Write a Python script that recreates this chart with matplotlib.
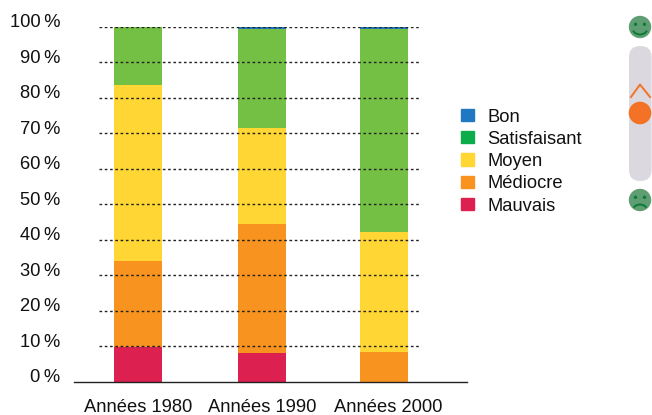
import matplotlib
matplotlib.use('Agg')
import matplotlib.pyplot as plt
import matplotlib.transforms as mtrans
import numpy as np
from matplotlib.patches import Circle, FancyBboxPatch, Arc, Patch

plt.rcParams['font.family'] = ['Liberation Sans', 'DejaVu Sans']

decades = ['Années 1980', 'Années 1990', 'Années 2000']
mauvais = [9.7, 8.0, 0.0]
mediocre = [24.3, 36.4, 8.3]
moyen = [49.6, 27.1, 33.9]
satisfaisant = [16.4, 28.0, 57.3]
bon = [0.0, 0.5, 0.5]
levels = ['Mauvais', 'Médiocre', 'Moyen', 'Satisfaisant', 'Bon']
ticks = [0, 10, 20, 30, 40, 50, 60, 70, 80, 90, 100]

series = [mauvais, mediocre, moyen, satisfaisant, bon]
bar_colors = ['#dc2050', '#f7931e', '#ffd633', '#74c044', '#1f78c1']
legend_colors = ['#dc2050', '#f7931e', '#ffd633', '#0cab4b', '#1f78c1']

W, H = 652, 415
fig = plt.figure(figsize=(W / 100, H / 100), dpi=100)
# axes placed in pixels: baseline at y=381.5, 100 % at y=27
ax = fig.add_axes([74 / W, 1 - 381.5 / H, (467 - 74) / W, (381.5 - 27) / H])

x = np.array([0, 1.004, 1.994])
width = 0.39
bottom = np.zeros(3)
for vals, color in zip(series, bar_colors):
    ax.bar(x, vals, width, bottom=bottom, color=color, zorder=2)
    bottom += np.array(vals)

ax.set_xlim(-0.524, 2.67)
ax.set_ylim(0, 100)
ax.hlines(ticks[1:], -0.32, 2.3, color='#222222', lw=1, linestyles=(0, (1.9, 1.9)), zorder=3)

for side in ['top', 'right', 'left']:
    ax.spines[side].set_visible(False)
ax.spines['bottom'].set_linewidth(1)
ax.spines['bottom'].set_color('#222222')
ax.set_xticks(x)
ax.set_xticklabels(decades, fontsize=13.2, color='#111111')
ax.set_yticks(ticks)
ax.set_yticklabels(['{}\u2009%'.format(t) for t in ticks], fontsize=13.2, color='#111111')
ax.tick_params(axis='x', length=0, pad=12.5)
ax.tick_params(axis='y', length=0, pad=10)
# y labels sit about 6 px above their gridlines
up = mtrans.ScaledTranslation(0, 6 / 100, fig.dpi_scale_trans)
for lab in ax.get_yticklabels():
    lab.set_transform(lab.get_transform() + up)
# the last decade label is off-centre under its bar in the original
right = mtrans.ScaledTranslation(4 / 100, 0, fig.dpi_scale_trans)
last = ax.get_xticklabels()[2]
last.set_transform(last.get_transform() + right)

handles = [Patch(color=c, label=l) for c, l in zip(legend_colors, levels)][::-1]
fig.legend(handles=handles, loc='upper left', bbox_to_anchor=(461 / W, 1 - 108.5 / H),
           frameon=False, fontsize=13.2, borderpad=0, borderaxespad=0,
           handlelength=0.71, handleheight=0.65, handletextpad=0.72, labelspacing=0.287,
           labelcolor='#111111')

# scale widget on the right, in pixel coordinates
ov = fig.add_axes([0, 0, 1, 1], facecolor='none')
ov.set_xlim(0, W)
ov.set_ylim(H, 0)
ov.axis('off')
ov.add_patch(FancyBboxPatch((629, 46), 22.6, 135, boxstyle='round,pad=0,rounding_size=11',
                            fc='#dcd8df', ec='none'))
ov.add_patch(Circle((640, 113), 11.3, fc='#f47226', ec='none', zorder=3))
ov.plot([631, 640, 650], [97, 84.5, 97], color='#f47226', lw=1.4, zorder=3)

face = '#5f9e73'
dark = '#0e7a3a'
for cy, smile in [(27, True), (200, False)]:
    ov.add_patch(Circle((640, cy), 11.2, fc=face, ec='none'))
    ov.add_patch(Circle((635.5, cy - 2.7), 1.7, fc=dark, ec='none'))
    ov.add_patch(Circle((644.5, cy - 2.7), 1.7, fc=dark, ec='none'))
    if smile:
        ov.add_patch(Arc((640, cy + 1), 15, 13, theta1=20, theta2=160, color=dark, lw=1.4))
    else:
        ov.add_patch(Arc((640, cy + 10), 14, 11, theta1=200, theta2=340, color=dark, lw=1.4))

fig.savefig('out.png', dpi=100)
